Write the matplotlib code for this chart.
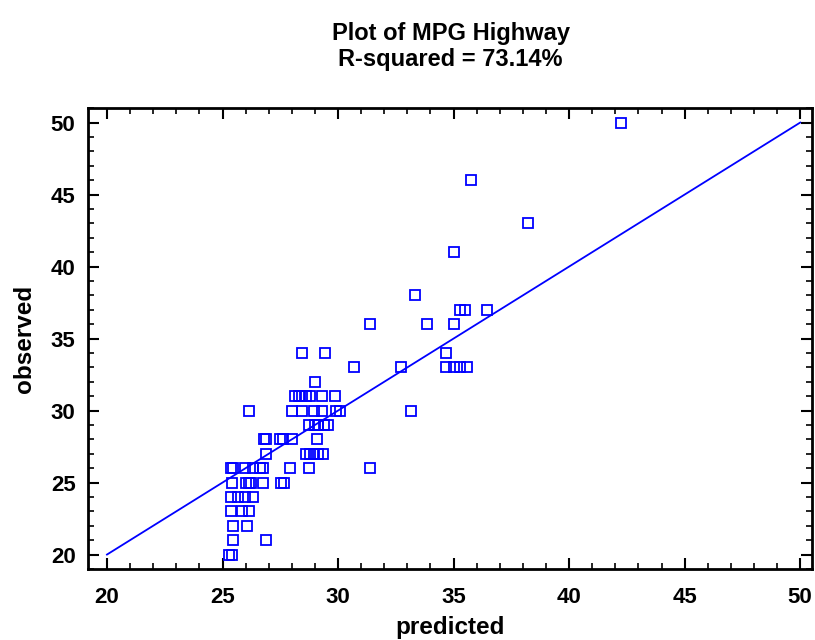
import numpy as np
import matplotlib
matplotlib.use("Agg")
import matplotlib.pyplot as plt
from matplotlib.ticker import MultipleLocator

rows = {
    50: [42.26],
    46: [35.77],
    43: [38.2],
    41: [35.0],
    38: [33.32],
    37: [35.26, 35.5, 36.44],
    36: [31.37, 33.83, 35.0],
    34: [28.43, 29.43, 34.68],
    33: [30.7, 32.71, 34.68, 35.0, 35.26, 35.57],
    32: [29.02],
    31: [28.15, 28.3, 28.45, 28.6, 28.8, 29.32, 29.86],
    30: [26.14, 27.99, 28.42, 28.95, 29.32, 29.93, 30.1, 33.14],
    29: [28.75, 28.99, 29.14, 29.38, 29.55],
    28: [26.78, 26.9, 27.48, 27.6, 28.0, 29.08],
    27: [26.9, 28.6, 28.78, 28.95, 29.12, 29.33],
    26: [25.35, 25.44, 25.97, 26.3, 26.63, 26.74, 27.92, 28.75, 31.37],
    25: [25.4, 26.02, 26.16, 26.23, 26.74, 27.54, 27.65],
    24: [25.38, 25.65, 25.96, 26.3],
    23: [25.38, 25.86, 26.15],
    22: [25.47, 26.06],
    21: [25.47, 26.9],
    20: [25.29, 25.41],
}
predicted = np.array([x for obs, xs in rows.items() for x in xs])
observed = np.array([obs for obs, xs in rows.items() for x in xs], dtype=float)

fit_line = [20, 50]
r_squared = 73.14

plt.rcParams["font.family"] = ["Liberation Sans", "DejaVu Sans"]
plt.rcParams["font.weight"] = "bold"

fig = plt.figure(figsize=(8.15, 6.4), dpi=100)
ax = fig.add_axes([0.108, 0.111, 0.888, 0.720])

ax.plot(fit_line, fit_line, color="#0000ff", lw=1.3, zorder=2)
ax.plot(predicted, observed, ls="none", marker="s", ms=6.8, mfc="none",
        mec="#0000ff", mew=1.3, zorder=3)

ax.set_xlim(19.18, 50.5)
ax.set_ylim(19.0, 51.0)
ax.xaxis.set_major_locator(MultipleLocator(5))
ax.xaxis.set_minor_locator(MultipleLocator(1))
ax.yaxis.set_major_locator(MultipleLocator(5))
ax.yaxis.set_minor_locator(MultipleLocator(1))
ax.tick_params(which="both", direction="in", top=True, right=True,
               labelsize=16, width=1.5, color="black")
ax.tick_params(axis="x", pad=13)
ax.tick_params(axis="y", pad=9)
ax.tick_params(which="major", length=8)
ax.tick_params(which="minor", length=4, width=1.2)
for lab in ax.get_xticklabels() + ax.get_yticklabels():
    lab.set_fontweight("bold")
for sp in ax.spines.values():
    sp.set_linewidth(2)
    sp.set_color("black")

ax.set_xlabel("predicted", fontsize=17.5, fontweight="bold")
ax.set_ylabel("observed", fontsize=17.5, fontweight="bold")
ax.xaxis.set_label_coords(0.5, -0.102)
ax.yaxis.set_label_coords(-0.072, 0.5)

fig.text(0.553, 0.948, "Plot of MPG Highway", ha="center", va="center",
         fontsize=17, fontweight="bold")
fig.text(0.553, 0.907, f"R-squared = {r_squared:.2f}%", ha="center",
         va="center", fontsize=17, fontweight="bold")

fig.savefig("out.png", dpi=100)
